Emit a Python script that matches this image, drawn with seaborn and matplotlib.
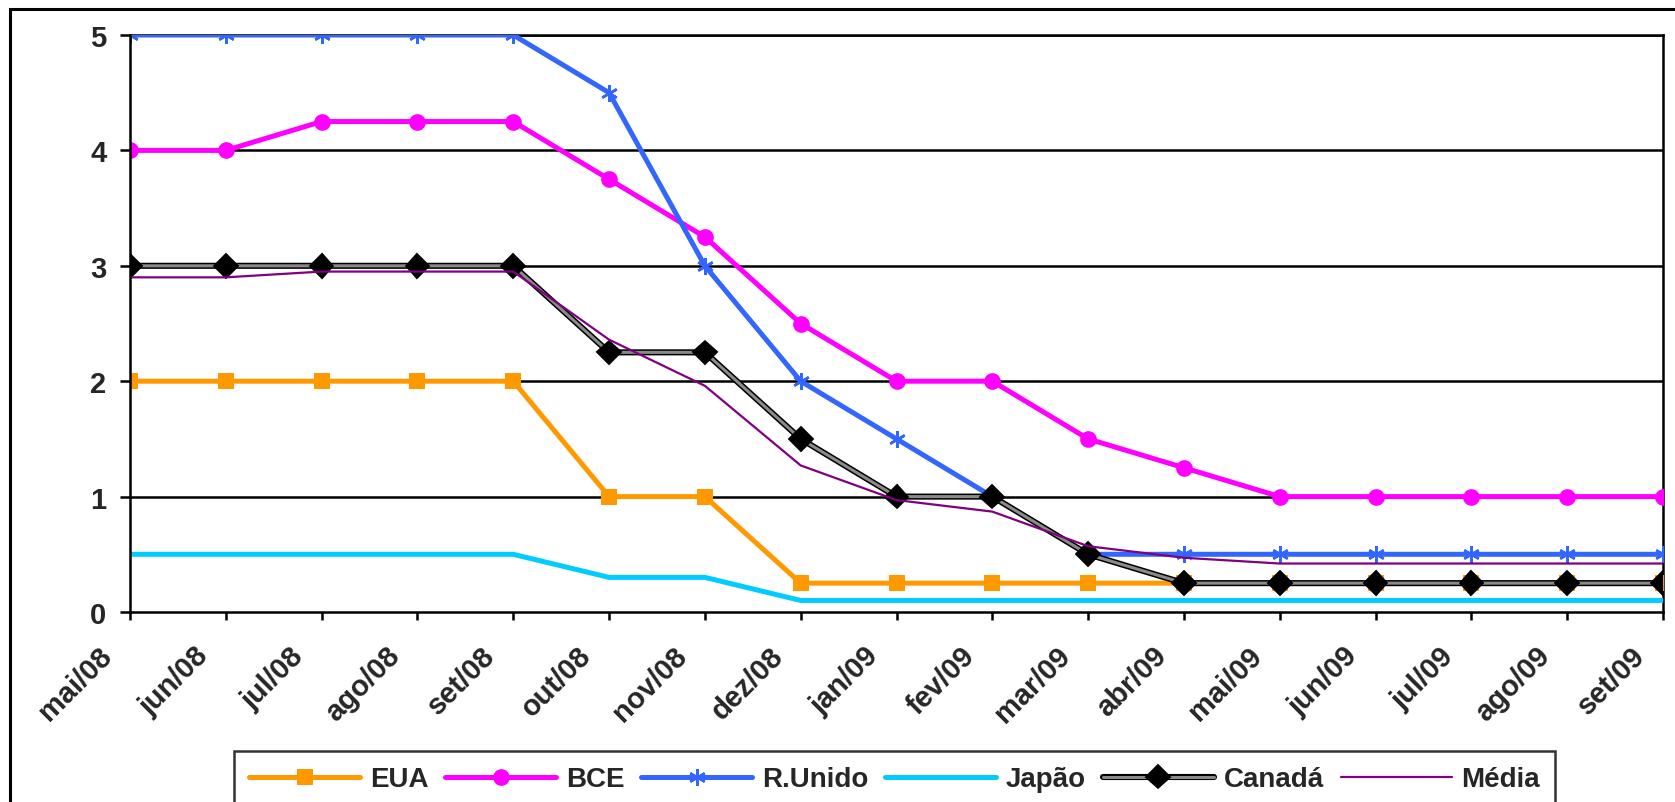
import numpy as np
import pandas as pd
import matplotlib
matplotlib.use("Agg")
import matplotlib.pyplot as plt
import matplotlib.patheffects as pe
from matplotlib.transforms import ScaledTranslation
from matplotlib.patches import Rectangle
import seaborn as sns

meses = ["mai/08", "jun/08", "jul/08", "ago/08", "set/08", "out/08", "nov/08",
         "dez/08", "jan/09", "fev/09", "mar/09", "abr/09", "mai/09", "jun/09",
         "jul/09", "ago/09", "set/09"]
eua = [2, 2, 2, 2, 2, 1, 1, 0.25, 0.25, 0.25, 0.25, 0.25, 0.25, 0.25, 0.25, 0.25, 0.25]
bce = [4, 4, 4.25, 4.25, 4.25, 3.75, 3.25, 2.5, 2, 2, 1.5, 1.25, 1, 1, 1, 1, 1]
runido = [5, 5, 5, 5, 5, 4.5, 3, 2, 1.5, 1, 0.5, 0.5, 0.5, 0.5, 0.5, 0.5, 0.5]
japao = [0.5, 0.5, 0.5, 0.5, 0.5, 0.3, 0.3, 0.1, 0.1, 0.1, 0.1, 0.1, 0.1, 0.1, 0.1, 0.1, 0.1]
canada = [3, 3, 3, 3, 3, 2.25, 2.25, 1.5, 1, 1, 0.5, 0.25, 0.25, 0.25, 0.25, 0.25, 0.25]
media = [2.9, 2.9, 2.95, 2.95, 2.95, 2.36, 1.96, 1.27, 0.97, 0.87, 0.57, 0.47, 0.42, 0.42, 0.42, 0.42, 0.42]

sns.set_style("white")
plt.rcParams["font.family"] = ["Liberation Sans", "DejaVu Sans"]
plt.rcParams["font.weight"] = "bold"

fig = plt.figure(figsize=(16.75, 8.03), dpi=100)
ax = fig.add_axes([130 / 1675, 1 - 613 / 803, (1663 - 130) / 1675, (613 - 36) / 803])

x = np.arange(len(meses))
df = pd.DataFrame({"x": x, "EUA": eua, "BCE": bce, "R.Unido": runido,
                   "Japão": japao, "Canadá": canada, "Média": media})

# gridlines first
for v in [1, 2, 3, 4, 5]:
    ax.axhline(v, color="black", lw=1.8, zorder=1)

sns.lineplot(data=df, x="x", y="EUA", ax=ax, color="#FF9900", lw=3.6, marker="s",
             markersize=11, markeredgewidth=0, label="EUA", zorder=3)
sns.lineplot(data=df, x="x", y="BCE", ax=ax, color="#FF00FF", lw=3.6, marker="o",
             markersize=12, markeredgewidth=0, label="BCE", zorder=3)
sns.lineplot(data=df, x="x", y="R.Unido", ax=ax, color="#3366FF", lw=3.6, marker=(6, 2, 0),
             markersize=12, markeredgewidth=1.8, markeredgecolor="#3366FF", label="R.Unido", zorder=3)
sns.lineplot(data=df, x="x", y="Japão", ax=ax, color="#00CCFF", lw=3.6, label="Japão", zorder=3)
sns.lineplot(data=df, x="x", y="Canadá", ax=ax, color="#8a8a8a", lw=2.2, marker="D",
             markersize=9, markerfacecolor="black", markeredgecolor="black", label="Canadá", zorder=4,
             path_effects=[pe.Stroke(linewidth=4.4, foreground="black"), pe.Normal()])
sns.lineplot(data=df, x="x", y="Média", ax=ax, color="#800080", lw=1.6, label="Média", zorder=4)

ax.set_xlim(0, len(meses) - 1)
ax.set_ylim(0, 5)
ax.set_yticks([0, 1, 2, 3, 4, 5])
ax.set_yticklabels(["0", "1", "2", "3", "4", "5"], fontsize=21, fontweight="bold")
ax.set_xticks(x)
ax.set_xticklabels(meses, rotation=45, ha="right", va="top", rotation_mode="anchor",
                   fontsize=21, fontweight="bold")
ax.set_xlabel("")
ax.set_ylabel("")
ax.tick_params(axis="y", direction="out", length=7, width=1.8, pad=10, color="black", left=True)
ax.tick_params(axis="x", direction="out", length=6, width=1.8, pad=15, color="black", bottom=True)
for lab in ax.get_xticklabels():
    lab.set_transform(lab.get_transform() + ScaledTranslation(-32 / 100, 0, fig.dpi_scale_trans))
for s in ["left", "bottom", "right", "top"]:
    ax.spines[s].set_visible(True)
    ax.spines[s].set_color("black")
    ax.spines[s].set_linewidth(1.8)
ax.spines["left"].set_zorder(5)

leg = ax.legend(loc="upper left", bbox_to_anchor=(234 / 1675, 1 - 752 / 803),
                bbox_transform=fig.transFigure, ncol=6, frameon=True, fancybox=False,
                handlelength=4.0, handletextpad=0.35, columnspacing=0.6,
                borderpad=0.55, borderaxespad=0, prop={"size": 20, "weight": "bold"})
leg.get_frame().set_edgecolor("black")
leg.get_frame().set_linewidth(1.8)

# outer chart border
fig.patches.append(Rectangle((10 / 1675, -0.05), 1.2, 1 - 10 / 803 + 0.05, transform=fig.transFigure,
                             fill=False, edgecolor="black", lw=2.2, zorder=0))

fig.savefig("out.png", dpi=100)
